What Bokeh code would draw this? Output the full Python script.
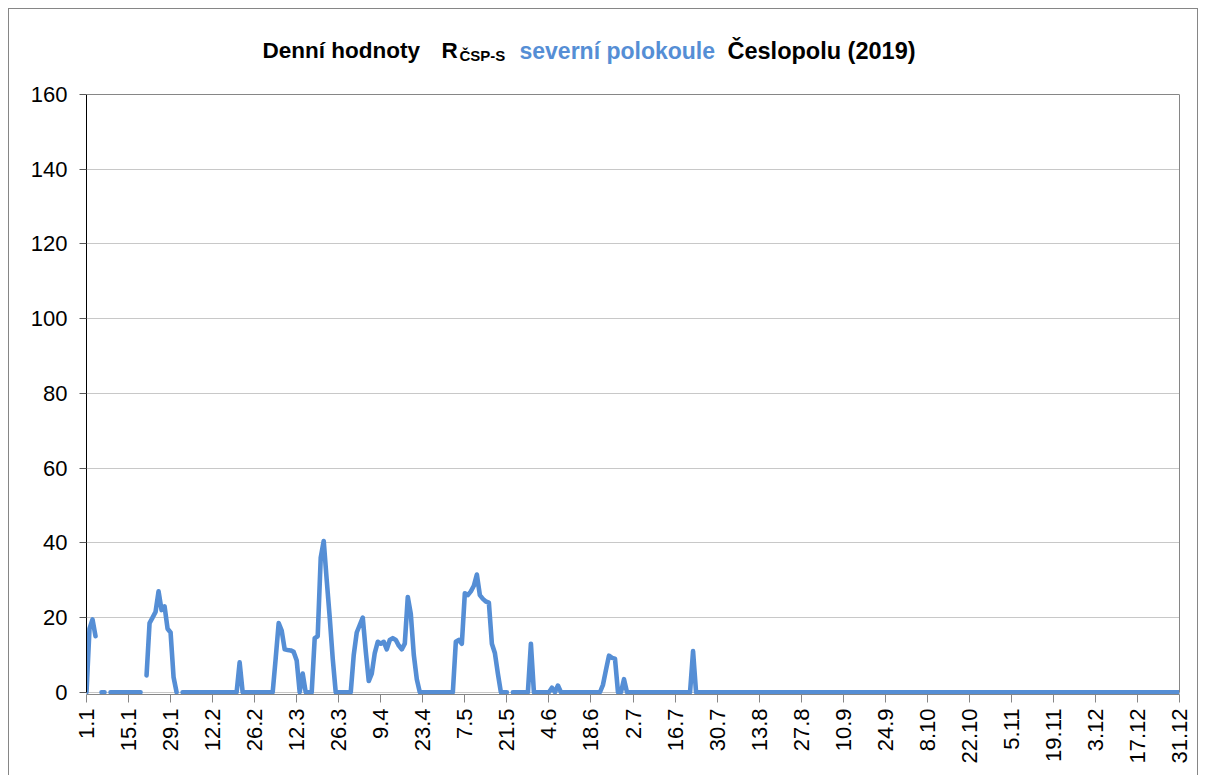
import numpy as np
from bokeh.plotting import figure
from bokeh.models import (ColumnDataSource, Range1d, FixedTicker, Label, LinearAxis, Span)
from bokeh.embed import file_html
from bokeh.resources import INLINE

# Daily values R_CSP-S, northern hemisphere, 2019 (day 0 = 1.1.); None = no observation
values = [
    0, 17, 19.5, 15, None, 0, 0, None, 0, 0,            # 1.1 - 10.1
    0, 0, 0, 0, 0, 0, 0, 0, 0, None,                    # 11.1 - 20.1
    4.5, 18.5, 20, 21.5, 27, 22, 23, 17, 16, 4,         # 21.1 - 30.1
    0, None, 0, 0, 0, 0, 0, 0, 0, 0,                    # 31.1 - 9.2
    0, 0, 0, 0, 0, 0, 0, 0, 0, 0,                       # 10.2 - 19.2
    0, 8, 0, 0, 0, 0, 0, 0, 0, 0,                       # 20.2 - 1.3
    0, 0, 0, 9, 18.5, 16.5, 11.5, 11.3, 11.2, 10.8,     # 2.3 - 11.3
    8.5, 0, 5, 0, 0, 0, 14.5, 15, 36, 40.5,             # 12.3 - 21.3
    30, 20, 9, 0, 0, 0, 0, 0, 0, 10,                    # 22.3 - 31.3
    16, 18, 20, 11, 3, 5, 10.5, 13.5, 13, 13.5,         # 1.4 - 10.4
    11.5, 14, 14.5, 14, 12.5, 11.5, 13, 25.5, 21, 10,   # 11.4 - 20.4
    3.5, 0, 0, 0, 0, 0, 0, 0, 0, 0,                     # 21.4 - 30.4
    0, 0, 0, 13.5, 14, 13, 26.5, 26, 27, 28.5,          # 1.5 - 10.5
    31.5, 26, 25, 24.3, 24, 13, 10.5, 5, 0, 0,          # 11.5 - 20.5
    0, None, 0, 0, 0, 0, 0, 0, 13, 0,                   # 21.5 - 30.5
    0, 0, 0, 0, 0, 1.2, 0, 1.8, 0, 0,                   # 31.5 - 9.6
    0, 0, 0, 0, 0, 0, 0, 0, 0, 0,                       # 10.6 - 19.6
    0, 0, 2, 6, 9.8, 9.2, 9, 0, 0, 3.5,                 # 20.6 - 29.6
    0, 0, 0, 0, 0, 0, 0, 0, 0, 0,                       # 30.6 - 9.7
    0, 0, 0, 0, 0, 0, 0, 0, 0, 0,                       # 10.7 - 19.7
    0, 0, 11, 0, 0, 0, 0, 0, 0, 0,                      # 20.7 - 29.7
    0, 0, 0, 0, 0, 0, 0, 0, 0, 0,                       # 30.7 - 8.8
    0, 0, 0, 0, 0, 0, 0, 0, 0, 0,                       # 9.8 - 18.8
    0, 0, 0, 0, 0, 0, 0, 0, 0, 0,                       # 19.8 - 28.8
    0, 0, 0, 0, 0, 0, 0, 0, 0, 0,                       # 29.8 - 7.9
    0, 0, 0, 0, 0, 0, 0, 0, 0, 0,                       # 8.9 - 17.9
    0, 0, 0, 0, 0, 0, 0, 0, 0, 0,                       # 18.9 - 27.9
    0, 0, 0, 0, 0, 0, 0, 0, 0, 0,                       # 28.9 - 7.10
    0, 0, 0, 0, 0, 0, 0, 0, 0, 0,                       # 8.10 - 17.10
    0, 0, 0, 0, 0, 0, 0, 0, 0, 0,                       # 18.10 - 27.10
    0, 0, 0, 0, 0, 0, 0, 0, 0, 0,                       # 28.10 - 6.11
    0, 0, 0, 0, 0, 0, 0, 0, 0, 0,                       # 7.11 - 16.11
    0, 0, 0, 0, 0, 0, 0, 0, 0, 0,                       # 17.11 - 26.11
    0, 0, 0, 0, 0, 0, 0, 0, 0, 0,                       # 27.11 - 6.12
    0, 0, 0, 0, 0, 0, 0, 0, 0, 0,                       # 7.12 - 16.12
    0, 0, 0, 0, 0, 0, 0, 0, 0, 0,                       # 17.12 - 26.12
    0, 0, 0, 0, 0,                                      # 27.12 - 31.12
]

tick_days = [0, 14, 28, 42, 56, 70, 84, 98, 112, 126, 140, 154, 168, 182,
             196, 210, 224, 238, 252, 266, 280, 294, 308, 322, 336, 350, 364]
tick_labels = ["1.1", "15.1", "29.1", "12.2", "26.2", "12.3", "26.3", "9.4", "23.4",
               "7.5", "21.5", "4.6", "18.6", "2.7", "16.7", "30.7", "13.8", "27.8",
               "10.9", "24.9", "8.10", "22.10", "5.11", "19.11", "3.12", "17.12", "31.12"]
y_ticks = [0, 20, 40, 60, 80, 100, 120, 140, 160]

y_vals = np.array([np.nan if v is None else v for v in values], dtype=float)
days = np.arange(len(values))
source = ColumnDataSource(data=dict(day=days, r=y_vals))

FONT = "Liberation Sans"
BLUE = "#558ED5"
GRAY = "#868686"
W, H = 1190, 767

# plot frame extends above 160 so the title (drawn as labels) sits inside it
p = figure(width=W, height=H, output_backend="svg", toolbar_location=None,
           x_range=Range1d(0, 364), y_range=Range1d(-0.6, 177.4),
           min_border_left=77, min_border_right=20, min_border_top=20, min_border_bottom=82,
           background_fill_color="white", border_fill_color="white",
           styles={"margin-left": "8px", "margin-top": "8px",
                   "border-top": "1px solid " + GRAY, "border-left": "1px solid " + GRAY,
                   "border-right": "1px solid " + GRAY})
p.outline_line_color = None

p.xgrid.grid_line_color = None
p.ygrid.grid_line_color = "#C8C8C8"
p.ygrid.grid_line_width = 1

# plot-area border: top line at 160 and right edge
p.add_layout(Span(location=160, dimension="width", line_color=GRAY, line_width=1))
right_ax = LinearAxis(ticker=FixedTicker(ticks=[]), bounds=(0, 160),
                      axis_line_color=GRAY, major_tick_line_color=None,
                      minor_tick_line_color=None)
p.add_layout(right_ax, "right")

p.line("day", "r", source=source, line_color=BLUE, line_width=4.6,
       line_join="round", line_cap="round")

p.yaxis[0].ticker = FixedTicker(ticks=y_ticks)
p.yaxis[0].bounds = (0, 160)
p.yaxis[0].axis_line_color = "#000000"
p.yaxis[0].major_tick_line_color = "#595959"
p.yaxis[0].major_tick_out = 7
p.yaxis[0].major_tick_in = 0
p.yaxis[0].minor_tick_line_color = None
p.yaxis[0].major_label_text_font = FONT
p.yaxis[0].major_label_text_font_size = "22px"
p.yaxis[0].major_label_text_color = "black"
p.yaxis[0].major_label_standoff = 12

p.xaxis.ticker = FixedTicker(ticks=tick_days)
p.xaxis.major_label_overrides = {d: lab for d, lab in zip(tick_days, tick_labels)}
p.xaxis.major_label_orientation = np.pi / 2
p.xaxis.axis_line_color = GRAY
p.xaxis.major_tick_line_color = GRAY
p.xaxis.major_tick_out = 8
p.xaxis.major_tick_in = 0
p.xaxis.minor_tick_line_color = None
p.xaxis.major_label_text_font = FONT
p.xaxis.major_label_text_font_size = "22px"
p.xaxis.major_label_text_color = "black"
p.xaxis.major_label_standoff = 6

# Title composed of several pieces (screen units relative to plot frame, y up from frame bottom)
base_y = 644
parts = [
    ("Denní hodnoty", 262, base_y, "22.5px", "black"),
    ("R", 441, base_y, "22.5px", "black"),
    ("ČSP-S", 459, base_y - 5, "15px", "black"),
    ("severní polokoule", 519, base_y, "23px", BLUE),
    ("Česlopolu (2019)", 727, base_y, "23.5px", "black"),
]
for txt, x, y, size, col in parts:
    p.add_layout(Label(x=x - 86, y=y, x_units="screen", y_units="screen", text=txt,
                       text_font=FONT, text_font_style="bold", text_font_size=size,
                       text_color=col, text_baseline="alphabetic", text_align="left"))

open("out.html", "w").write(file_html(p, INLINE))
